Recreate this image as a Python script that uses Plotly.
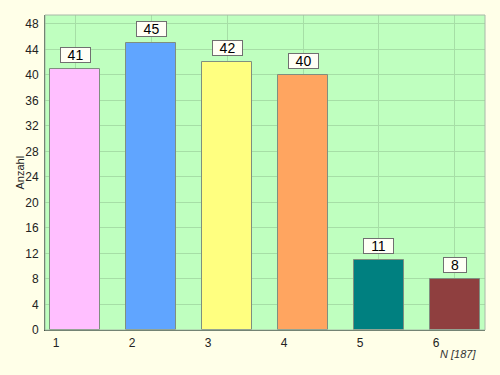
import plotly.graph_objects as go

categories = [1, 2, 3, 4, 5, 6]
values = [41, 45, 42, 40, 11, 8]
bar_colors = ["#FFBFFF", "#60A5FF", "#FFFF80", "#FFA560", "#008080", "#8F3F3F"]
y_ticks = list(range(0, 49, 4))
x_title = "N [187]"
y_title = "Anzahl"

fig = go.Figure()
fig.add_trace(go.Bar(
    x=categories, y=values, width=0.67,
    marker=dict(color=bar_colors, line=dict(color="#7f8f7f", width=1)),
    hoverinfo="skip",
))

for c, v in zip(categories, values):
    t = str(v)
    fig.add_annotation(
        x=c, y=v, xref="x", yref="y", text=t, showarrow=False,
        yanchor="middle", yshift=14,
        font=dict(family="Liberation Sans, Arial", size=14, color="#000000"),
        bgcolor="#FFFFF5", bordercolor="#707070", borderwidth=1, borderpad=0,
        width=7 * len(t) + 15, height=14,
    )

fig.add_annotation(
    x=1, y=0, xref="paper", yref="paper", text="<i>" + x_title + "</i>",
    showarrow=False, xanchor="right", yanchor="middle", xshift=-7, yshift=-24,
    font=dict(family="Liberation Sans, Arial", size=11, color="#333333"),
)
fig.add_annotation(
    x=0, y=0.5, xref="paper", yref="paper", text=y_title, textangle=-90,
    showarrow=False, xanchor="center", yanchor="middle", xshift=-26,
    font=dict(family="Liberation Sans, Arial", size=11, color="#222222"),
)

fig.add_shape(type="rect", xref="paper", yref="paper", x0=0, y0=0, x1=1, y1=1,
              line=dict(color="#a8b8a8", width=1), layer="above")

fig.update_layout(
    width=500, height=375,
    margin=dict(l=45, r=15, t=15, b=45),
    paper_bgcolor="#FFFFE8",
    plot_bgcolor="#BFFFBF",
    showlegend=False,
    bargap=0,
    font=dict(family="Liberation Sans, Arial", size=12, color="#222222"),
)
fig.update_xaxes(
    range=[0.605, 6.395], tickvals=categories, ticktext=[str(c) for c in categories],
    ticklabelshift=-19, ticklabelstandoff=2,
    showgrid=True, gridcolor="#a6dea6", gridwidth=1,
    showline=True, linecolor="#405040", linewidth=1, zeroline=False,
    ticks="", tickfont=dict(size=12),
)
fig.update_yaxes(
    range=[0, 49.4], tickvals=y_ticks,
    showgrid=True, gridcolor="#a6dea6", gridwidth=1,
    showline=True, linecolor="#405040", linewidth=1, zeroline=False,
    ticks="", ticklabelstandoff=3, tickfont=dict(size=12),
)

fig.write_html("out.html", config={"displayModeBar": False},
               post_script="document.body.style.margin='0';document.body.style.overflow='hidden';")
